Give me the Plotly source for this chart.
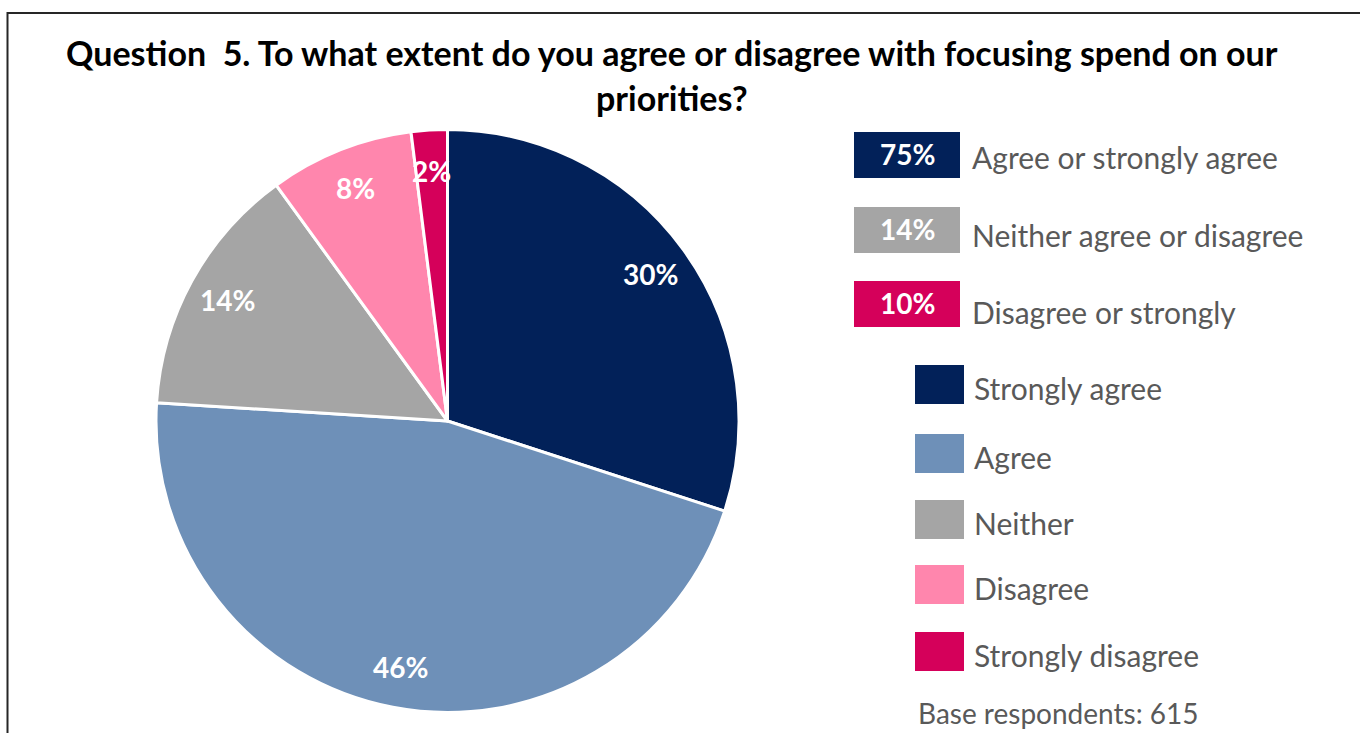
import math
import plotly.graph_objects as go

# Survey responses, Question 5
categories = ["Strongly agree", "Agree", "Neither", "Disagree", "Strongly disagree"]
shares = [30, 46, 14, 8, 2]
colors = ["#022159", "#6E90B8", "#A5A5A5", "#FF86AD", "#D5005A"]

summary_values = [75, 14, 10]
summary_labels = ["Agree or strongly agree", "Neither agree or disagree", "Disagree or strongly"]
summary_colors = ["#022159", "#A5A5A5", "#D5005A"]

title_lines = ["Question  5. To what extent do you agree or disagree with focusing spend on our",
               "priorities?"]
base_note = "Base respondents: 615"

W, H = 1360, 733
FONT = "Lato"
GREY_TEXT = "#595959"


def px(x):
    return x / W


def py(y):
    return 1 - y / H


# pie geometry in pixels
cx, cy, R = 447.5, 421.0, 291.5

fig = go.Figure()
fig.add_trace(go.Pie(
    labels=categories,
    values=shares,
    sort=False,
    direction="clockwise",
    rotation=0,
    marker=dict(colors=colors, line=dict(color="white", width=3)),
    textinfo="none",
    hoverinfo="label+percent",
    showlegend=False,
    domain=dict(x=[px(cx - R), px(cx + R)], y=[py(cy + R), py(cy - R)]),
))

annotations = []

# slice percentage labels, placed at the mid-angle of each slice
total = sum(shares)
cum = 0.0
for v in shares:
    mid = (cum + v / 2) / total * 2 * math.pi
    cum += v
    r = R * 0.86
    x = cx + r * math.sin(mid)
    y = cy - r * math.cos(mid)
    annotations.append(dict(
        x=px(x), y=py(y), xref="paper", yref="paper", showarrow=False,
        text=f"<b>{round(v / total * 100)}%</b>",
        font=dict(family=FONT, size=28, color="white"),
        xanchor="center", yanchor="middle",
    ))

# title
for i, line in enumerate(title_lines):
    annotations.append(dict(
        x=px(672), y=py(52 + 45 * i), xref="paper", yref="paper", showarrow=False,
        text=f"<b>{line}</b>", font=dict(family=FONT, size=34, color="black"),
        xanchor="center", yanchor="middle",
    ))

shapes = [dict(type="rect", xref="paper", yref="paper",
               x0=px(7.5), x1=px(1380), y0=py(13), y1=py(760),
               line=dict(color="#262626", width=2), fillcolor="rgba(0,0,0,0)")]

# summary boxes
box_tops = [132, 207, 281]
text_centers = [157, 235, 312]
for val, lab, col, top, tc in zip(summary_values, summary_labels, summary_colors, box_tops, text_centers):
    shapes.append(dict(type="rect", xref="paper", yref="paper",
                       x0=px(854), x1=px(960), y0=py(top + 46), y1=py(top),
                       line=dict(width=0), fillcolor=col))
    annotations.append(dict(
        x=px(907), y=py(top + 22), xref="paper", yref="paper", showarrow=False,
        text=f"<b>{val}%</b>", font=dict(family=FONT, size=28, color="white"),
        xanchor="center", yanchor="middle",
    ))
    annotations.append(dict(
        x=px(970), y=py(tc), xref="paper", yref="paper", showarrow=False,
        text=lab, font=dict(family=FONT, size=30, color=GREY_TEXT),
        xanchor="left", yanchor="middle",
    ))

# category legend
sq_tops = [365, 434, 500, 565, 632]
for cat, col, top in zip(categories, colors, sq_tops):
    shapes.append(dict(type="rect", xref="paper", yref="paper",
                       x0=px(915), x1=px(964), y0=py(top + 39), y1=py(top),
                       line=dict(width=0), fillcolor=col))
    annotations.append(dict(
        x=px(972), y=py(top + 23), xref="paper", yref="paper", showarrow=False,
        text=cat, font=dict(family=FONT, size=30, color=GREY_TEXT),
        xanchor="left", yanchor="middle",
    ))

# base note sits just above the bottom edge
annotations.append(dict(
    x=px(917), y=py(731), xref="paper", yref="paper", showarrow=False,
    text=base_note, font=dict(family=FONT, size=28, color=GREY_TEXT),
    xanchor="left", yanchor="bottom", borderpad=0,
))

fig.update_layout(
    width=W, height=H,
    margin=dict(l=0, r=0, t=0, b=0),
    paper_bgcolor="white", plot_bgcolor="white",
    annotations=annotations, shapes=shapes,
)

fig.write_html("out.html", config={"displayModeBar": False})
